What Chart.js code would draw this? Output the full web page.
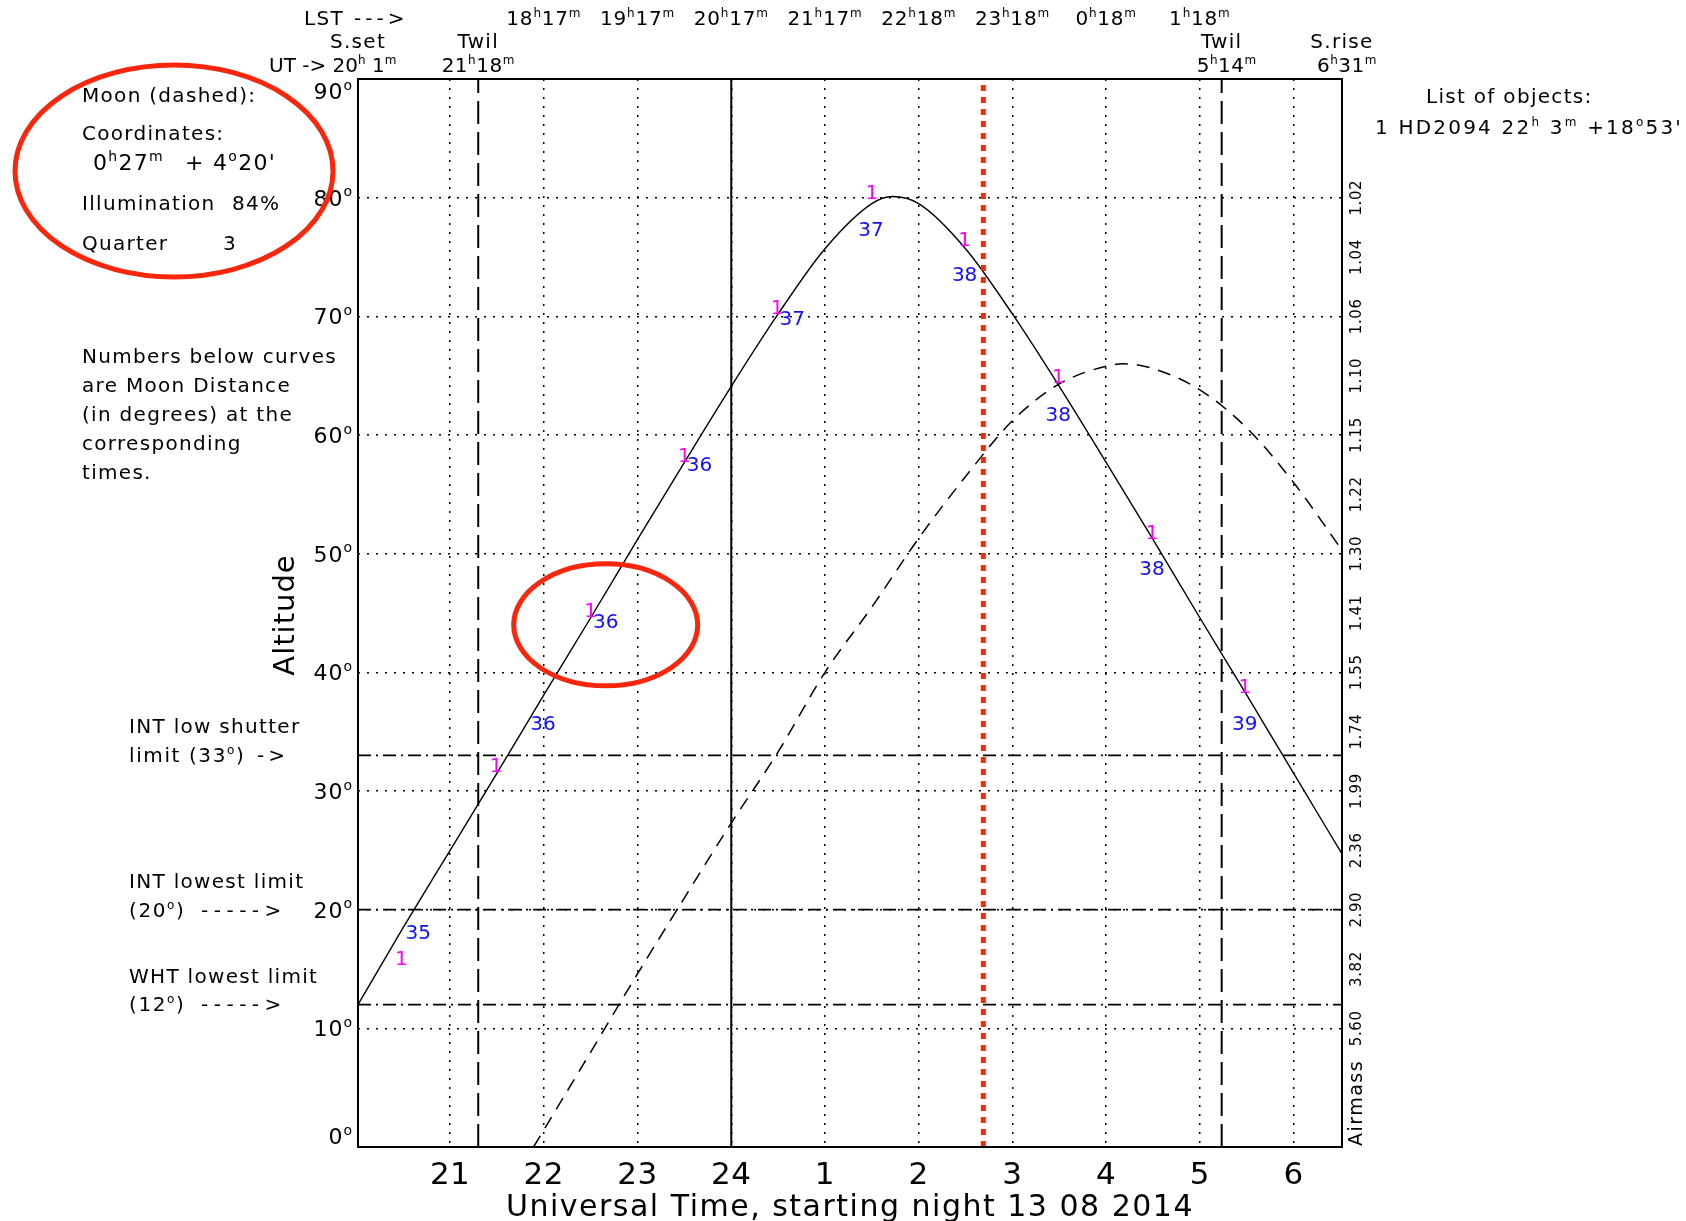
<!DOCTYPE html>
<html>
<head>
<meta charset="utf-8">
<script src="https://cdn.jsdelivr.net/npm/chart.js@4.4.1/dist/chart.umd.min.js"></script>
<style>
  html, body { margin: 0; padding: 0; background: #fff; }
  canvas { display: block; }
</style>
</head>
<body>
<canvas id="chart" width="1686" height="1221"></canvas>
<script>
// UT hours run on past midnight: 25 = 1h UT of the next day
const utStart = 20.017;          // S.set 20h01m
const utEnd = 30.517;            // S.rise 6h31m
const twilightTimes = [21.3, 29.233];
const midnightTime = 24;
const nowTime = 26.69;           // red dotted marker
const limitAlts = [33, 20, 12];  // INT shutter, INT lowest, WHT lowest

const xTickValues = [21, 22, 23, 24, 25, 26, 27, 28, 29, 30];
const xTickLabels = ["21", "22", "23", "24", "1", "2", "3", "4", "5", "6"];
const lstTimes = [22, 23, 24, 25, 26, 27, 28, 29];
const lstLabels = ["18^h17^m", "19^h17^m", "20^h17^m", "21^h17^m", "22^h18^m", "23^h18^m", "0^h18^m", "1^h18^m"];
const altTicks = [0, 10, 20, 30, 40, 50, 60, 70, 80, 90];
const airmassAlts = [80, 75, 70, 65, 60, 55, 50, 45, 40, 35, 30, 25, 20, 15, 10];
const airmassLabels = ["1.02", "1.04", "1.06", "1.10", "1.15", "1.22", "1.30", "1.41", "1.55", "1.74", "1.99", "2.36", "2.90", "3.82", "5.60"];

// object 1 (HD2094), solid curve
const starTimes = [20.017, 20.5, 21, 21.5, 22, 22.5, 23, 23.5, 24, 24.5, 25, 25.5, 25.72, 26, 26.5, 27, 27.5, 28, 28.5, 29, 29.5, 30, 30.517];
const starAlts = [12.0, 18.5, 25.0, 31.5, 38.1, 44.6, 51.2, 57.7, 64.1, 70.2, 75.7, 79.5, 80.1, 79.5, 75.7, 70.2, 64.1, 57.7, 51.2, 44.6, 38.1, 31.5, 24.7];

// moon, dashed curve
const moonTimes = [21.89, 22.5, 23, 23.5, 24, 24.5, 25, 25.5, 26, 26.5, 27, 27.5, 28, 28.18, 28.5, 29, 29.5, 30, 30.517];
const moonAlts = [0, 8.0, 14.6, 21.0, 27.3, 33.3, 40.0, 45.5, 51.3, 56.5, 61.2, 64.3, 65.8, 66.0, 65.6, 63.8, 60.6, 56.0, 50.3];

// object number markers and moon distance (degrees) along the curve
const objMarkTimes = [20.48, 21.49, 22.5, 23.5, 24.49, 25.5, 26.49, 27.49, 28.49, 29.48];
const objMarkAlts = [15.8, 32.0, 45.1, 58.2, 70.6, 80.3, 76.4, 64.8, 51.7, 38.7];
const moonDist = [35, 36, 36, 36, 37, 37, 38, 38, 38, 39];
const distTimes = [20.66, 21.99, 22.66, 23.66, 24.65, 25.49, 26.49, 27.49, 28.49, 29.48];
const distAlts = [18.0, 35.6, 44.2, 57.4, 69.7, 77.2, 73.4, 61.6, 48.6, 35.6];

const FONT = '"DejaVu Sans", sans-serif';
const RED = "rgb(250,38,12)";

function pts(xs, ys) {
    return xs.map((v, i) => ({ x: v, y: ys[i] }));
}

function hLine(alt) {
    return [{ x: utStart, y: alt }, { x: utEnd, y: alt }];
}

function vLine(t) {
    return [{ x: t, y: 0 }, { x: t, y: 90 }];
}

// text with ^x superscripts (h, m, degree o)
function richText(ctx, str, x, y, size, align, spacing) {
    const segs = str.split(/(\^.)/).filter(s => s.length);
    const supSize = Math.round(size * 0.62);
    ctx.letterSpacing = (spacing || 0) + "px";
    let w = 0;
    const items = segs.map(s => {
        const sup = s[0] === "^";
        const t = sup ? s.slice(1) : s;
        ctx.font = (sup ? supSize : size) + "px " + FONT;
        const m = ctx.measureText(t).width;
        w += m;
        return { t, sup, m };
    });
    let cx = align === "center" ? x - w / 2 : (align === "right" ? x - w : x);
    ctx.textAlign = "left";
    ctx.textBaseline = "alphabetic";
    items.forEach(it => {
        ctx.font = (it.sup ? supSize : size) + "px " + FONT;
        ctx.fillText(it.t, cx, it.sup ? y - size * 0.42 : y);
        cx += it.m;
    });
    ctx.letterSpacing = "0px";
}

function rotText(ctx, str, x, y, size, spacing) {
    ctx.save();
    ctx.translate(x, y);
    ctx.rotate(-Math.PI / 2);
    ctx.font = size + "px " + FONT;
    ctx.letterSpacing = (spacing || 0) + "px";
    ctx.textAlign = "center";
    ctx.textBaseline = "middle";
    ctx.fillText(str, 0, 0);
    ctx.restore();
}

const annotate = {
    id: "annotate",
    beforeDraw(chart) {
        const ctx = chart.ctx;
        ctx.save();
        ctx.fillStyle = "#fff";
        ctx.fillRect(0, 0, chart.width, chart.height);
        ctx.restore();
    },
    afterDraw(chart) {
        const { ctx, chartArea: a, scales: { x, y } } = chart;
        ctx.save();

        // frame
        ctx.strokeStyle = "#000";
        ctx.lineWidth = 2;
        ctx.strokeRect(a.left, a.top, a.right - a.left, a.bottom - a.top);

        ctx.fillStyle = "#000";

        // altitude ticks
        altTicks.forEach(v => {
            let cy = y.getPixelForValue(v);
            cy = Math.min(Math.max(cy, a.top + 12), a.bottom - 11);
            richText(ctx, v + "^o", a.left - 5, cy + 8, 22, "right", 1);
        });

        // UT ticks
        xTickValues.forEach((v, i) => {
            richText(ctx, xTickLabels[i], x.getPixelForValue(v), a.bottom + 37, 31, "center", 0.5);
        });
        richText(ctx, "Universal Time, starting night 13 08 2014", (a.left + a.right) / 2, a.bottom + 69, 30, "center", 1.5);
        rotText(ctx, "Altitude", 286, (a.top + a.bottom) / 2 + 2, 29, 1);

        // LST row and sun / twilight times
        richText(ctx, "LST", 304, a.top - 54, 20, "left", 1.3);
        richText(ctx, "--->", 354, a.top - 54, 20, "left", 4);
        lstTimes.forEach((t, i) => {
            richText(ctx, lstLabels[i], x.getPixelForValue(t), a.top - 54, 20, "center", 0.8);
        });
        richText(ctx, "S.set", a.left, a.top - 31, 20, "center", 1.3);
        richText(ctx, "UT -> 20^h 1^m", 269, a.top - 7, 20, "left", 0);
        richText(ctx, "Twil", x.getPixelForValue(twilightTimes[0]), a.top - 31, 20, "center", 1.3);
        richText(ctx, "21^h18^m", x.getPixelForValue(twilightTimes[0]), a.top - 7, 20, "center", 0.5);
        richText(ctx, "Twil", x.getPixelForValue(twilightTimes[1]), a.top - 31, 20, "center", 1.3);
        richText(ctx, "5^h14^m", x.getPixelForValue(twilightTimes[1]) + 5, a.top - 7, 20, "center", 0.5);
        richText(ctx, "S.rise", a.right, a.top - 31, 20, "center", 1.3);
        richText(ctx, "6^h31^m", a.right + 5, a.top - 7, 20, "center", 0.5);

        // airmass scale
        airmassAlts.forEach((v, i) => {
            rotText(ctx, airmassLabels[i], a.right + 15, y.getPixelForValue(v), 15, 0.6);
        });
        rotText(ctx, "Airmass", a.right + 15, a.bottom - 44, 19, 1.5);

        // object list
        richText(ctx, "List of objects:", 1426, 103, 20, "left", 1.3);
        richText(ctx, "1 HD2094 22^h 3^m +18^o53'", 1375, 134, 20, "left", 2.2);

        // moon info and notes
        richText(ctx, "Moon (dashed):", 82, 102, 20, "left", 1.3);
        richText(ctx, "Coordinates:", 82, 140, 20, "left", 1.3);
        richText(ctx, "0^h27^m", 93, 170, 22, "left", 1.3);
        richText(ctx, "+ 4^o20'", 185, 170, 22, "left", 1.3);
        richText(ctx, "Illumination", 82, 210, 20, "left", 1.3);
        richText(ctx, "84%", 232, 210, 20, "left", 1.3);
        richText(ctx, "Quarter", 82, 250, 20, "left", 1.3);
        richText(ctx, "3", 223, 250, 20, "left", 1.3);
        ["Numbers below curves", "are Moon Distance", "(in degrees) at the", "corresponding", "times."]
            .forEach((s, i) => richText(ctx, s, 82, 363 + i * 29, 20, "left", 1.3));

        richText(ctx, "INT low shutter", 129, 733, 20, "left", 1.3);
        richText(ctx, "limit (33^o)", 129, 762, 20, "left", 1.6);
        richText(ctx, "->", 257, 762, 20, "left", 4);
        richText(ctx, "INT lowest limit", 129, 888, 20, "left", 1.3);
        richText(ctx, "(20^o)", 129, 917, 20, "left", 1.6);
        richText(ctx, "----->", 201, 917, 20, "left", 5.5);
        richText(ctx, "WHT lowest limit", 129, 983, 20, "left", 1.3);
        richText(ctx, "(12^o)", 129, 1011, 20, "left", 1.6);
        richText(ctx, "----->", 201, 1011, 20, "left", 5.5);

        // object markers and moon distances
        ctx.font = "20px " + FONT;
        ctx.textAlign = "center";
        ctx.textBaseline = "middle";
        ctx.fillStyle = "#ff00ff";
        objMarkTimes.forEach((t, i) => {
            ctx.fillText("1", x.getPixelForValue(t), y.getPixelForValue(objMarkAlts[i]));
        });
        ctx.fillStyle = "#1010ff";
        distTimes.forEach((t, i) => {
            ctx.fillText(String(moonDist[i]), x.getPixelForValue(t), y.getPixelForValue(distAlts[i]));
        });

        // hand-drawn red circles
        ctx.strokeStyle = RED;
        ctx.lineWidth = 5;
        ctx.beginPath();
        ctx.ellipse(174, 171, 159, 106, 0, 0, Math.PI * 2);
        ctx.stroke();
        ctx.beginPath();
        ctx.ellipse(x.getPixelForValue(22.66), y.getPixelForValue(44.0), 92, 61, 0, 0, Math.PI * 2);
        ctx.stroke();

        ctx.restore();
    }
};

const black = "#000";
const lineSet = (data, width, dash, color) => ({
    data: data,
    showLine: true,
    borderColor: color || black,
    borderWidth: width,
    borderDash: dash,
    pointRadius: 0,
    fill: false
});

new Chart(document.getElementById("chart"), {
    type: "scatter",
    data: {
        datasets: [
            lineSet(vLine(nowTime), 5, [6, 6], RED),
            Object.assign(lineSet(pts(starTimes, starAlts), 1.4, []), { cubicInterpolationMode: "monotone" }),
            Object.assign(lineSet(pts(moonTimes, moonAlts), 1.5, [13, 9]), { cubicInterpolationMode: "monotone" }),
            lineSet(vLine(midnightTime), 2, []),
            lineSet(vLine(twilightTimes[0]), 2, [23, 8]),
            lineSet(vLine(twilightTimes[1]), 2, [23, 8]),
            lineSet(hLine(limitAlts[0]), 1.8, [13, 5, 2, 5]),
            lineSet(hLine(limitAlts[1]), 1.8, [13, 5, 2, 5]),
            lineSet(hLine(limitAlts[2]), 1.8, [13, 5, 2, 5])
        ]
    },
    options: {
        responsive: false,
        animation: false,
        devicePixelRatio: 1,
        layout: { padding: { left: 358, right: 344, top: 79, bottom: 74 } },
        plugins: { legend: { display: false }, tooltip: { enabled: false } },
        scales: {
            x: {
                type: "linear",
                min: utStart,
                max: utEnd,
                afterBuildTicks: scale => {
                    scale.ticks = xTickValues.map(v => ({ value: v }));
                },
                ticks: { display: false },
                grid: { color: black, lineWidth: 1.5, drawTicks: false },
                border: { display: false, dash: [2, 7] }
            },
            y: {
                type: "linear",
                min: 0,
                max: 90,
                ticks: { display: false, stepSize: 10 },
                grid: { color: black, lineWidth: 1.5, drawTicks: false },
                border: { display: false, dash: [2, 7] }
            }
        }
    },
    plugins: [annotate]
});
</script>
</body>
</html>
